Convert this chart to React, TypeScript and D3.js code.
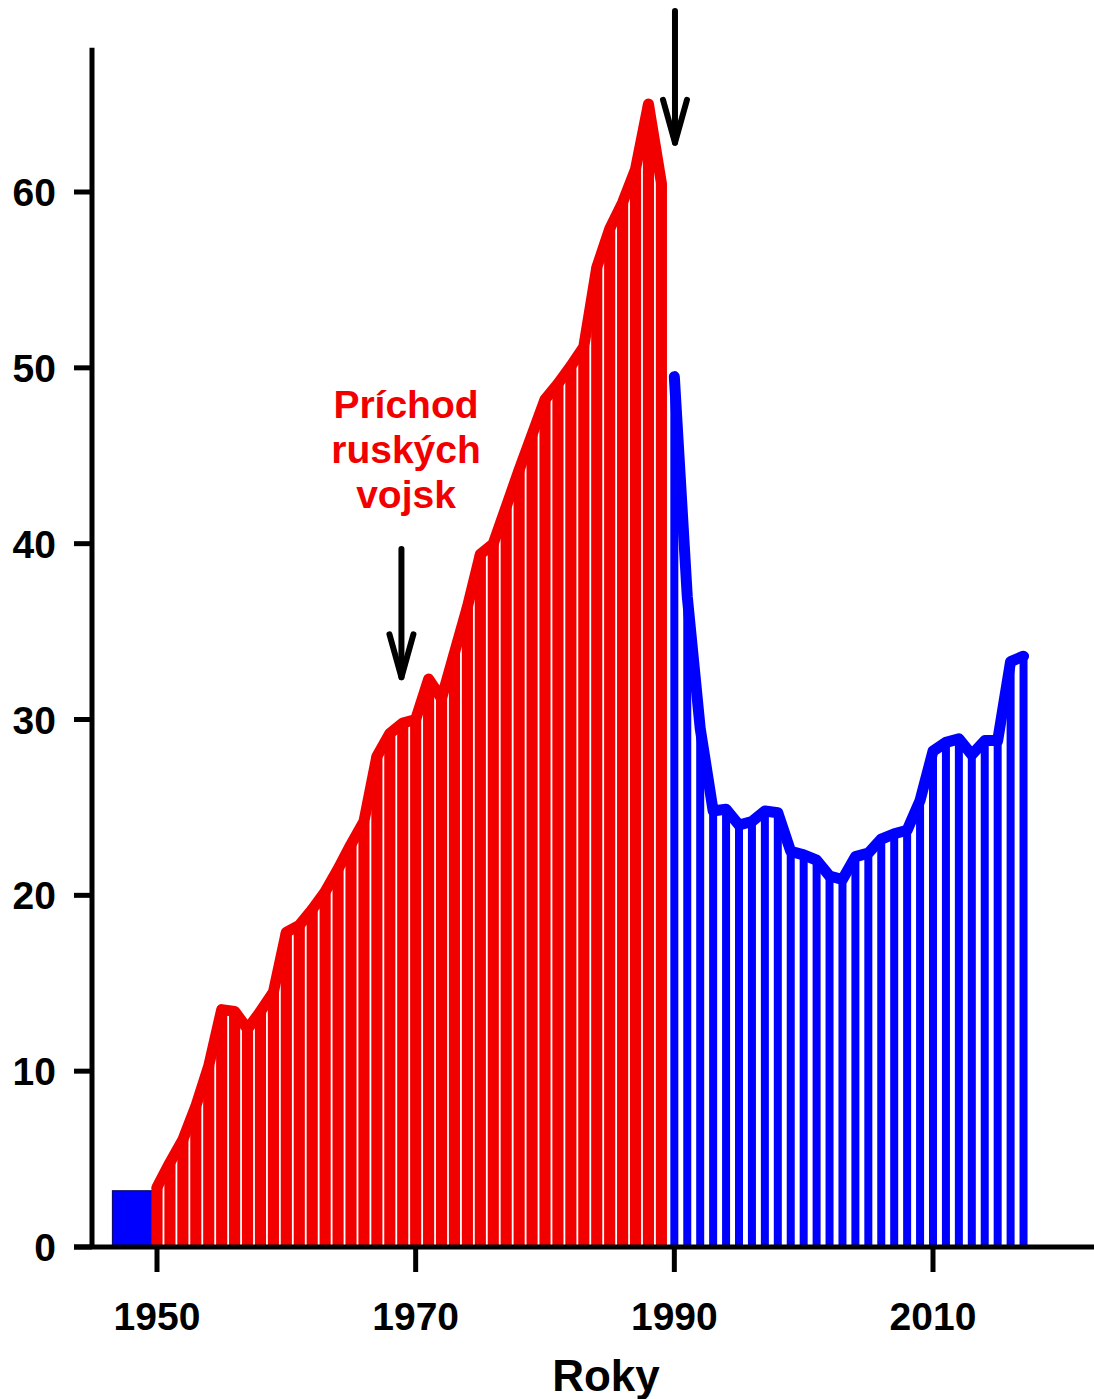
import React from "react";
import * as d3 from "d3";

// ---- data ----
const preBlockStart = 1946.55;
const preBlockEnd = 1949.6;
const preBlockValue = 3.2;

const redStartYear = 1950;
const redValues = [
  3.4, 4.8, 6.1, 8.0, 10.3, 13.5, 13.4, 12.4, 13.4, 14.5,
  17.9, 18.3, 19.2, 20.2, 21.5, 22.9, 24.2, 27.9, 29.2, 29.8,
  30.0, 32.3, 31.2, 33.8, 36.4, 39.4, 40.0, 42.1, 44.2, 46.2,
  48.2, 49.1, 50.1, 51.2, 55.7, 57.9, 59.4, 61.3, 65.0, 60.5,
];

const blueStartYear = 1990;
const blueValues = [
  49.5, 37.0, 29.5, 24.8, 24.9, 24.0, 24.2, 24.8, 24.7, 22.5,
  22.3, 22.0, 21.1, 20.9, 22.2, 22.4, 23.2, 23.5, 23.7, 25.4,
  28.2, 28.7, 28.9, 28.0, 28.8, 28.8, 33.3, 33.6,
];

const yTicks = [0, 10, 20, 30, 40, 50, 60];
const xTicks = [1950, 1970, 1990, 2010];
const xTitle = "Roky";
const annotationLines = ["Príchod", "ruských", "vojsk"];
const arrows = [
  { year: 1968.9, from: 39.7, to: 32.4 },
  { year: 1990.05, from: 70.3, to: 62.8 },
];

const RED = "#f20000";
const BLUE = "#0000fe";
const FONT = "'Liberation Sans', Arial, Helvetica, sans-serif";

type Pt = { year: number; value: number };

export default function App() {
  const W = 1094;
  const H = 1399;
  const x = d3.scaleLinear().domain([1950, 2010]).range([157, 933]);
  const y = d3.scaleLinear().domain([0, 60]).range([1247, 192]);

  const redData: Pt[] = redValues.map((v, i) => ({ year: redStartYear + i, value: v }));
  const blueData: Pt[] = blueValues.map((v, i) => ({ year: blueStartYear + i, value: v }));

  const line = d3
    .line<Pt>()
    .x((d) => x(d.year))
    .y((d) => y(d.value));

  const step = x(1951) - x(1950);
  const redW = step - 1.8;
  const blueW = 8;
  const axisX = 92;
  const baseY = y(0);

  return (
    <svg
      width={W}
      height={H}
      style={{ position: "absolute", left: 0, top: 0, background: "#fff" }}
      fontFamily={FONT}
    >
      <rect x={0} y={0} width={W} height={H} fill="#fff" />

      {/* pre-1950 block */}
      <rect
        x={x(preBlockStart)}
        y={y(preBlockValue)}
        width={x(preBlockEnd) - x(preBlockStart)}
        height={baseY - y(preBlockValue)}
        fill={BLUE}
        stroke="#000060"
        strokeWidth={1}
      />

      {/* red bars */}
      {redData.map((d) => (
        <rect
          key={"r" + d.year}
          x={x(d.year) - redW / 2}
          y={y(d.value)}
          width={redW}
          height={baseY - y(d.value)}
          fill={RED}
        />
      ))}
      <path
        d={line(redData) || ""}
        fill="none"
        stroke={RED}
        strokeWidth={11}
        strokeLinejoin="round"
        strokeLinecap="round"
      />

      {/* blue bars */}
      {blueData.map((d) => (
        <rect
          key={"b" + d.year}
          x={x(d.year) - blueW / 2}
          y={y(d.value)}
          width={blueW}
          height={baseY - y(d.value)}
          fill={BLUE}
        />
      ))}
      <path
        d={line(blueData) || ""}
        fill="none"
        stroke={BLUE}
        strokeWidth={11}
        strokeLinejoin="round"
        strokeLinecap="round"
      />

      {/* axes */}
      <line x1={axisX} x2={axisX} y1={baseY + 2} y2={y(68.2)} stroke="#000" strokeWidth={5} />
      <line x1={74} x2={W} y1={baseY} y2={baseY} stroke="#000" strokeWidth={5} />
      {yTicks.map((t) => (
        <g key={"yt" + t}>
          <line x1={74} x2={axisX} y1={y(t)} y2={y(t)} stroke="#000" strokeWidth={5} />
          <text
            x={56}
            y={y(t)}
            dy="0.36em"
            textAnchor="end"
            fontSize={39}
            fontWeight="bold"
            fill="#000"
          >
            {t}
          </text>
        </g>
      ))}
      {xTicks.map((t) => (
        <g key={"xt" + t}>
          <line x1={x(t)} x2={x(t)} y1={baseY} y2={baseY + 25} stroke="#000" strokeWidth={5} />
          <text
            x={x(t)}
            y={1330}
            textAnchor="middle"
            fontSize={39}
            fontWeight="bold"
            fill="#000"
          >
            {t}
          </text>
        </g>
      ))}
      <text x={606} y={1391} textAnchor="middle" fontSize={44} fontWeight="bold" fill="#000">
        {xTitle}
      </text>

      {/* annotation */}
      {annotationLines.map((s, i) => (
        <text
          key={"a" + i}
          x={406}
          y={418 + i * 45}
          textAnchor="middle"
          fontSize={39}
          fontWeight="bold"
          fill={RED}
        >
          {s}
        </text>
      ))}
      {arrows.map((a, i) => {
        const ax = x(a.year);
        const y1 = y(a.from);
        const y2 = y(a.to);
        return (
          <g key={"ar" + i} stroke="#000" strokeWidth={6} strokeLinecap="round" fill="none">
            <line x1={ax} x2={ax} y1={y1} y2={y2} />
            <polyline
              points={`${ax - 12},${y2 - 43} ${ax},${y2} ${ax + 12},${y2 - 43}`}
              strokeLinejoin="round"
            />
          </g>
        );
      })}
    </svg>
  );
}
